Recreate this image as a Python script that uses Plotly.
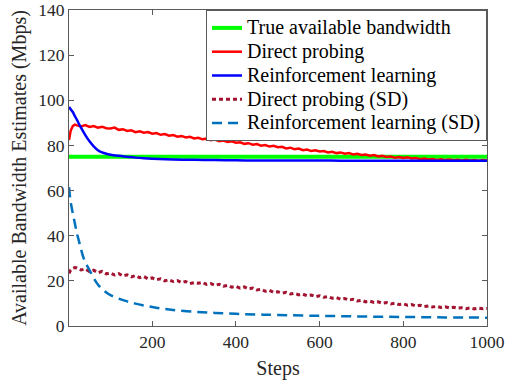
import plotly.graph_objs as go

# Step indices used for the noisy direct probing series.
dp_steps = [1, 5, 10, 15] + list(range(20, 1001, 10))

# True available bandwidth (constant).
true_steps = [1, 1000]
true_bw = [75, 75]

# Direct probing mean estimate (Mbps).
dp_mean = [
    82.4, 86.5, 88.6, 89.2,
    88.9, 88.4, 89.0, 88.2, 88.6, 87.9, 88.3, 87.6, 87.5, 87.9,
    86.9, 87.2, 86.4, 86.7, 85.9, 86.3, 85.6, 85.9, 85.2, 85.5,
    84.7, 85.0, 84.3, 84.6, 83.9, 84.2, 83.5, 83.8, 83.1, 83.4,
    82.7, 83.0, 82.3, 82.6, 81.9, 82.2, 81.5, 81.8, 81.2, 81.4,
    80.7, 81.0, 80.3, 80.6, 79.9, 80.2, 79.5, 79.8, 79.2, 79.4,
    78.7, 79.0, 78.3, 78.6, 77.9, 78.2, 77.5, 77.8, 77.3, 77.5,
    76.9, 77.2, 76.6, 76.9, 76.3, 76.6, 76.0, 76.3, 75.8, 76.0,
    75.4, 75.7, 75.1, 75.4, 74.9, 75.1, 74.6, 74.9, 74.4, 74.7,
    74.2, 74.4, 73.9, 74.2, 73.8, 74.0, 73.6, 73.9, 73.5, 73.8,
    73.4, 73.7, 73.3, 73.6, 73.3, 73.5, 73.2, 73.5, 73.3,
]

# Direct probing standard deviation (Mbps).
dp_sd = [
    23.3, 24.8, 25.6, 25.9,
    25.7, 24.8, 25.3, 24.1, 24.7, 23.6, 24.2, 23.1, 23.5, 22.6,
    23.2, 22.2, 22.7, 21.8, 22.3, 21.4, 21.9, 20.9, 21.3, 20.5,
    20.9, 20.0, 20.5, 19.7, 20.1, 19.3, 19.7, 18.8, 19.2, 18.9,
    19.3, 18.4, 18.8, 18.0, 18.5, 17.6, 18.0, 17.2, 17.6, 16.8,
    17.3, 16.4, 16.8, 16.0, 16.3, 15.4, 15.8, 14.9, 15.2, 14.6,
    14.9, 14.2, 14.5, 13.8, 14.1, 13.4, 13.7, 13.0, 13.4, 12.7,
    13.0, 12.3, 12.6, 11.9, 12.2, 11.5, 11.8, 11.1, 11.4, 10.7,
    11.0, 10.4, 10.7, 10.1, 10.4, 9.8, 10.1, 9.5, 9.8, 9.2,
    9.5, 8.9, 9.2, 8.6, 8.9, 8.4, 8.7, 8.2, 8.5, 8.0,
    8.3, 7.9, 8.1, 7.7, 8.0, 7.6, 7.9, 7.6, 7.8,
]

# Reinforcement learning mean estimate (Mbps).
rl_steps = [1, 5, 10, 15, 20, 25, 30, 40, 50, 60, 70, 80, 90, 100,
            120, 140, 160, 180, 200, 250, 300, 350, 400, 450, 500,
            550, 600, 650, 700, 750, 800, 850, 900, 950, 1000]
rl_mean = [97.0, 96.0, 94.8, 93.0, 91.3, 89.5, 87.8, 84.6, 81.8, 79.6,
           77.9, 76.9, 76.3, 75.9, 75.4, 75.0, 74.6, 74.3, 74.1, 73.8,
           73.6, 73.5, 73.4, 73.35, 73.3, 73.3, 73.3, 73.25, 73.2, 73.2,
           73.2, 73.2, 73.2, 73.2, 73.2]

# Reinforcement learning standard deviation (Mbps).
rl_sd_steps = [1, 5, 10, 15, 20, 25, 30, 35, 40, 50, 60, 70, 80, 90, 100,
               120, 140, 160, 180, 200, 220, 250, 300, 350, 400, 450, 500,
               600, 700, 800, 900, 1000]
rl_sd = [61.5, 55.0, 50.0, 45.5, 41.0, 37.5, 33.8, 30.6, 28.2, 24.8,
         21.3, 18.4, 16.4, 14.9, 13.7, 12.1, 10.9, 9.9, 9.1, 8.4,
         7.8, 7.1, 6.3, 5.8, 5.4, 5.1, 4.9, 4.5, 4.2, 4.0, 3.8, 3.7]

# Legend labels.
series_names = [
    "True available bandwidth",
    "Direct probing",
    "Reinforcement learning",
    "Direct probing (SD)",
    "Reinforcement learning (SD)",
]

assert len(dp_steps) == len(dp_mean) == len(dp_sd)
assert len(rl_steps) == len(rl_mean)
assert len(rl_sd_steps) == len(rl_sd)

font_family = "Liberation Serif, Times New Roman, serif"
axis_color = "#5a5a5a"


def legend_label(text):
    # Larger text inside a compact legend row.
    return '<span style="font-size:20px">%s</span>' % text


fig = go.Figure()

# Draw the series in legend order.
fig.add_trace(go.Scatter(
    x=true_steps, y=true_bw, mode="lines",
    name=legend_label(series_names[0]),
    line=dict(color="#00FF00", width=4)
))
fig.add_trace(go.Scatter(
    x=dp_steps, y=dp_mean, mode="lines",
    name=legend_label(series_names[1]),
    line=dict(color="#FF0000", width=2.5)
))
fig.add_trace(go.Scatter(
    x=rl_steps, y=rl_mean, mode="lines",
    name=legend_label(series_names[2]),
    line=dict(color="#0000FF", width=2.5, shape="spline")
))
fig.add_trace(go.Scatter(
    x=dp_steps, y=dp_sd, mode="lines",
    name=legend_label(series_names[3]),
    line=dict(color="#A2142F", width=3, dash="4px,3px")
))
fig.add_trace(go.Scatter(
    x=rl_sd_steps, y=rl_sd, mode="lines",
    name=legend_label(series_names[4]),
    line=dict(color="#0072BD", width=2.5, dash="10px,6px", shape="spline")
))

# Shared axis styling, MATLAB-like boxed axes with inward ticks.
axis_style = dict(
    showline=True, linecolor=axis_color, linewidth=1, mirror="ticks",
    ticks="inside", ticklen=5, tickcolor=axis_color,
    showgrid=False, zeroline=False, automargin=False,
    tickfont=dict(family=font_family, size=17.5, color="#262626"),
)

fig.update_xaxes(
    range=[1, 1000], tickvals=[200, 400, 600, 800, 1000],
    title=dict(text="Steps", standoff=9,
               font=dict(family=font_family, size=20, color="#262626")),
    **axis_style
)
fig.update_yaxes(
    range=[0, 140], tickvals=[0, 20, 40, 60, 80, 100, 120, 140],
    title=dict(text="Available Bandwidth Estimates (Mbps)", standoff=6,
               font=dict(family=font_family, size=20, color="#262626")),
    **axis_style
)

fig.update_layout(
    width=515, height=381,
    margin=dict(l=69, r=28, t=10, b=55),
    paper_bgcolor="white", plot_bgcolor="white",
    font=dict(family=font_family, color="#262626"),
    hovermode=False,
    legend=dict(
        x=1, y=1, xanchor="right", yanchor="top",
        bgcolor="white", bordercolor=axis_color, borderwidth=1,
        font=dict(family=font_family, size=16, color="#000000"),
        tracegroupgap=0,
    ),
)

# Drop the default page margin so the figure sits at the window origin.
fig.write_html(
    "out.html",
    config={"displayModeBar": False},
    post_script="document.body.style.margin = '0px';"
)
